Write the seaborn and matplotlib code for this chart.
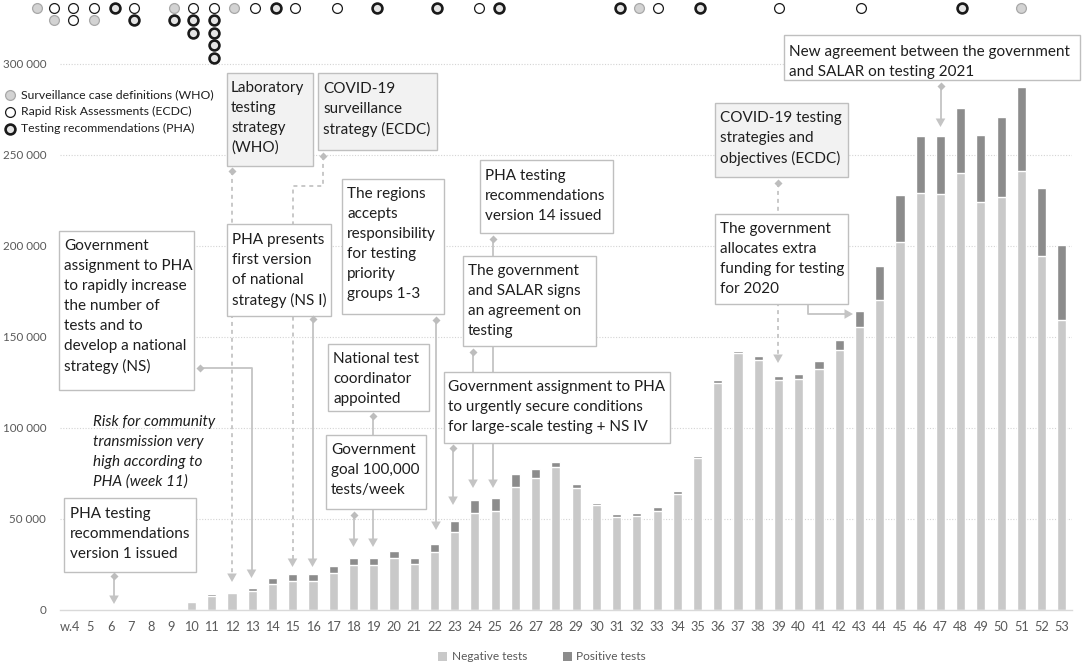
import numpy as np
import pandas as pd
import matplotlib
matplotlib.use("Agg")
import matplotlib.pyplot as plt
import seaborn as sns
from matplotlib.patches import Rectangle, Polygon, Patch
from matplotlib.ticker import FuncFormatter

# ---------------- data ----------------
weeks = ["w.4"] + [str(w) for w in range(5, 54)]
negative = [0, 0, 0, 0, 0, 700, 4200, 7900, 9200, 10300,
            14400, 15900, 15900, 20100, 24700, 24500, 28600, 25100, 31900, 42600,
            53100, 54100, 67400, 72300, 78500, 67000, 57600, 51300, 51700, 54300,
            63500, 83700, 124700, 140900, 137500, 126100, 126700, 132500, 142600, 155500,
            170500, 202000, 228900, 228500, 240000, 224300, 227000, 240900, 194600, 159300]
positive = [0, 0, 0, 0, 0, 50, 300, 1000, 900, 1900,
            3300, 3900, 4000, 4100, 4100, 4300, 3900, 3300, 4300, 6100,
            7400, 7300, 7400, 5200, 3000, 2000, 1200, 1300, 1800, 2200,
            1700, 1100, 1400, 1400, 1900, 2600, 3100, 4300, 5600, 8800,
            18400, 25800, 31500, 31900, 35600, 36400, 43700, 46300, 37300, 41400]

# documents published (week position, source), listed top-down within a week
event_week = [2.35, 3.2, 3.2, 4.14, 4.14, 5.18, 5.18, 6.2, 7.15, 7.15,
              9.12, 9.12, 10.06, 10.06, 10.06, 11.09, 11.09, 11.09, 11.09, 11.09,
              12.12, 13.15, 14.17, 15.12, 17.18, 19.15, 22.15, 24.2, 25.19,
              31.16, 32.1, 33.04, 35.1, 39.0, 43.07, 48.05, 50.96]
event_type = ["WHO", "ECDC", "WHO", "ECDC", "ECDC", "ECDC", "WHO", "PHA", "ECDC", "PHA",
              "WHO", "PHA", "ECDC", "PHA", "PHA", "ECDC", "PHA", "PHA", "PHA", "PHA",
              "WHO", "ECDC", "PHA", "ECDC", "ECDC", "PHA", "PHA", "ECDC", "PHA",
              "PHA", "WHO", "ECDC", "PHA", "ECDC", "ECDC", "PHA", "WHO"]
event_labels = {"WHO": "Surveillance case definitions (WHO)",
                "ECDC": "Rapid Risk Assessments (ECDC)",
                "PHA": "Testing recommendations (PHA)"}

# ---------------- style ----------------
sns.set_style("white")
plt.rcParams["font.family"] = ["Lato", "DejaVu Sans"]

NEG_C = "#c9c9c9"
POS_C = "#8c8c8c"
GRID_C = "#d4d4d4"
LBL_C = "#595959"
TXT_C = "#1e1e1e"
LINE_C = "#c4c4c4"
FS = 11

W, H = 1084, 666
fig = plt.figure(figsize=(W / 100, H / 100), dpi=100)
ax = fig.add_axes([60 / W, 56 / H, (1072 - 60) / W, 610 / H])

df = pd.DataFrame({"week": weeks, "neg": negative, "pos": positive})
df["total"] = df["neg"] + df["pos"]

sns.barplot(data=df, x="week", y="total", color=POS_C, saturation=1, width=0.45, ax=ax)
sns.barplot(data=df, x="week", y="neg", color=NEG_C, saturation=1, width=0.45, ax=ax)

ax.set_xlim(-0.5, len(weeks) - 0.5)
ax.set_ylim(0, 335000)
ax.set_yticks(np.arange(0, 300001, 50000))
ax.yaxis.set_major_formatter(FuncFormatter(lambda v, p: f"{int(v):,}".replace(",", " ")))
ax.set_xlabel("")
ax.set_ylabel("")
ax.tick_params(axis="x", length=0, pad=8, labelsize=9.2, labelcolor=LBL_C)
ax.tick_params(axis="y", length=0, pad=10, labelsize=8.4, labelcolor=LBL_C)
for s in ["top", "right", "left"]:
    ax.spines[s].set_visible(False)
ax.spines["bottom"].set_color("#d9d9d9")
ax.spines["bottom"].set_linewidth(1)
ax.yaxis.grid(True, color=GRID_C, linestyle=(0, (1, 1.5)), linewidth=0.8)
ax.set_axisbelow(True)
for gl in ax.yaxis.get_gridlines()[:1]:
    gl.set_visible(False)

# event circles stacked per week
styles = {"WHO": dict(fc="#d3d3d3", ec="#a8a8a8", lw=0.9),
          "ECDC": dict(fc="white", ec="#1a1a1a", lw=0.9),
          "PHA": dict(fc="#e4e4e4", ec="#1a1a1a", lw=1.9)}
seen = {}
ex, ey, et = [], [], []
for wk, tp in zip(event_week, event_type):
    r = seen.get(wk, 0)
    seen[wk] = r + 1
    ex.append(wk - 4)
    ey.append(330800 - r * 6850)
    et.append(tp)
ex, ey, et = np.array(ex), np.array(ey), np.array(et)
for tp, st in styles.items():
    m = et == tp
    ax.scatter(ex[m], ey[m], s=50, marker="o", facecolors=st["fc"], edgecolors=st["ec"],
               linewidths=st["lw"], clip_on=False, zorder=6)

# bottom legend
handles = [Patch(facecolor=NEG_C, edgecolor="none", label="Negative tests"),
           Patch(facecolor=POS_C, edgecolor="none", label="Positive tests")]
fig.legend(handles=handles, loc="center", bbox_to_anchor=(0.5, 9 / H), ncol=2,
           frameon=False, fontsize=8.6, labelcolor=LBL_C, handlelength=0.75,
           handleheight=0.75, handletextpad=0.4, columnspacing=3.0)

# ---------------- overlay in pixel coordinates ----------------
ov = fig.add_axes([0, 0, 1, 1])
ov.set_xlim(0, W)
ov.set_ylim(H, 0)
ov.axis("off")
ov.patch.set_alpha(0)

# circle legend
for i, tp in enumerate(["WHO", "ECDC", "PHA"]):
    st = styles[tp]
    yy = 94.5 + i * 17
    ov.scatter([10], [yy], s=50, facecolors=st["fc"], edgecolors=st["ec"], linewidths=st["lw"], zorder=6)
    ov.text(21, yy, event_labels[tp], fontsize=8.8, color=TXT_C, va="center", ha="left")


def connector(pts, dashed=False, diamond=True):
    xs = [p[0] for p in pts]
    ys = [p[1] for p in pts]
    (x0, y0), (x1, y1) = pts[-2], pts[-1]
    d = np.hypot(x1 - x0, y1 - y0)
    ux, uy = (x1 - x0) / d, (y1 - y0) / d
    ah = 8.5
    bx, by = x1 - ux * ah, y1 - uy * ah
    lx = xs[:-1] + [bx]
    ly = ys[:-1] + [by]
    ov.plot(lx, ly, color=LINE_C, lw=1.3, ls=(0, (2.2, 2.2)) if dashed else "-",
            solid_capstyle="butt", zorder=2)
    nx, ny = -uy, ux
    tri = [(x1, y1), (bx + nx * 4.8, by + ny * 4.8), (bx - nx * 4.8, by - ny * 4.8)]
    ov.add_patch(Polygon(tri, closed=True, fc=LINE_C, ec="none", zorder=2))
    if diamond:
        ov.plot([xs[0]], [ys[0]], marker="D", ms=4.2, color="#bdbdbd", mec="none", zorder=4)


def box(x0, y0, x1, y1, lines, tx, ty, gray=False):
    ov.add_patch(Rectangle((x0, y0), x1 - x0, y1 - y0, fc="#f2f2f2" if gray else "white",
                           ec="#bfbfbf", lw=1, zorder=3))
    for i, t in enumerate(lines):
        ov.text(tx, ty + 20 * i, t, va="center", ha="left", fontsize=FS, color=TXT_C, zorder=3.5)


# connectors (drawn under boxes)
connector([(114, 576), (114, 604)])
connector([(200, 368), (251.5, 368), (251.5, 578)])
connector([(232, 171), (232, 582)], dashed=True)
connector([(323, 156), (323, 186), (292.5, 186), (292.5, 567)], dashed=True)
connector([(312.5, 319), (312.5, 567)])
connector([(436, 319.5), (436, 530)])
connector([(493, 239), (493, 488)])
connector([(473, 351.5), (473, 488)])
connector([(453, 447.5), (453, 505)])
connector([(373, 415.5), (373, 547)])
connector([(353.5, 514.5), (353.5, 547)])
connector([(778, 182.5), (778, 363)], dashed=True)
connector([(808, 304), (808, 314), (853, 314)], diamond=False)
connector([(940.5, 85.5), (940.5, 127)])

# text boxes
box(64, 498, 196, 572, ["PHA testing", "recommendations", "version 1 issued"], 70, 514)
box(59, 231, 194, 390, ["Government", "assignment to PHA", "to rapidly increase", "the number of",
                        "tests and to", "develop a national", "strategy (NS)"], 64, 246)
box(227, 73, 313, 166, ["Laboratory", "testing", "strategy", "(WHO)"], 231, 88, gray=True)
box(318, 73, 437, 150, ["COVID-19", "surveillance", "strategy (ECDC)"], 323, 89, gray=True)
box(227, 224, 331, 316, ["PHA presents", "first version", "of national", "strategy (NS I)"], 232, 240)
box(342, 179, 444, 314, ["The regions", "accepts", "responsibility", "for testing", "priority",
                         "groups 1-3"], 347, 194)
box(480, 160, 613, 233, ["PHA testing", "recommendations", "version 14 issued"], 485, 176)
box(463, 256, 596, 346, ["The government", "and SALAR signs", "an agreement on", "testing"], 468, 271)
box(444, 372, 670, 443, ["Government assignment to PHA", "to urgently secure conditions",
                         "for large-scale testing + NS IV"], 448, 387)
box(328, 344, 429, 411, ["National test", "coordinator", "appointed"], 333, 359)
box(326, 435, 426, 509, ["Government", "goal 100,000", "tests/week"], 331, 450)
box(715, 103, 848, 177, ["COVID-19 testing", "strategies and", "objectives (ECDC)"], 720, 118, gray=True)
box(715, 214, 848, 304, ["The government", "allocates extra", "funding for testing", "for 2020"], 720, 229)
box(784, 35, 1080, 80, ["New agreement between the government", "and SALAR on testing 2021"], 789, 52)

for i, t in enumerate(["Risk for community", "transmission very", "high according to", "PHA (week 11)"]):
    ov.text(93, 422 + 20 * i, t, va="center", ha="left", fontsize=FS, style="italic", color=TXT_C)

fig.savefig("out.png", dpi=100)
